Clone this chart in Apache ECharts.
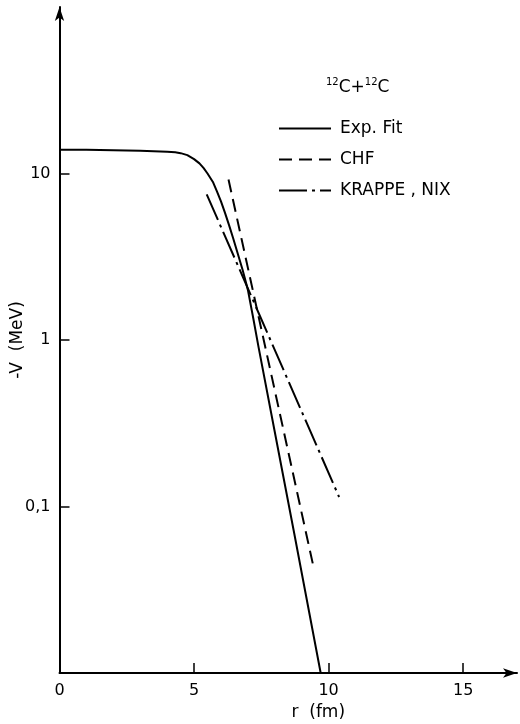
<!DOCTYPE html>
<html lang="en">
<head>
    <meta charset="UTF-8">
    <title>12C+12C potential</title>
    <script src="https://cdn.jsdelivr.net/npm/echarts@6/dist/echarts.min.js"></script>
    <style>
        html, body {
            margin: 0;
            padding: 0;
            background: #fff;
        }
        #main {
            width: 520px;
            height: 724px;
        }
    </style>
</head>
<body>
    <div id="main"></div>
    <script>
        // values
        var fitR = [0, 1, 2, 3, 4, 4.3, 4.5, 4.75, 5, 5.2, 5.35, 5.5, 5.7, 5.85, 6, 6.15, 6.3, 6.45, 6.6, 6.8, 7, 7.2, 7.4, 8, 8.7, 9.7];
        var fitV = [13.9, 13.9, 13.8, 13.7, 13.5, 13.4, 13.25, 12.9, 12.2, 11.5, 10.8, 10.0, 8.9, 7.8, 6.8, 5.8, 4.9, 4.1, 3.4, 2.65, 2.0, 1.35, 0.9, 0.28, 0.072, 0.0101];
        var chfR = [6.28, 9.43];
        var chfV = [9.2, 0.044];
        var knR = [5.47, 10.39];
        var knV = [7.5, 0.114];
        var xTicks = [0, 5, 10, 15];
        var yTicks = [0.1, 1, 10];
        var seriesNames = ['Exp. Fit', 'CHF', 'KRAPPE , NIX'];

        function pairs(xs, ys) {
            return xs.map(function (x, i) { return [x, ys[i]]; });
        }

        var font = 'DejaVu Sans';
        var chart = echarts.init(document.getElementById('main'));
        var option = {
            animation: false,
            color: ['#000', '#000', '#000'],
            textStyle: { fontFamily: font, color: '#000' },
            title: {
                text: '{s|12}{b|C+}{s|12}{b|C}',
                left: 321,
                top: 72,
                textStyle: {
                    fontWeight: 'normal',
                    rich: {
                        s: { fontSize: 10, fontFamily: font, fontWeight: 'normal', color: '#000', verticalAlign: 'top', lineHeight: 22 },
                        b: { fontSize: 17, fontFamily: font, fontWeight: 'normal', color: '#000', lineHeight: 22 }
                    }
                }
            },
            legend: {
                orient: 'vertical',
                left: 273,
                top: 115,
                itemWidth: 52,
                itemHeight: 14,
                itemGap: 14,
                data: seriesNames,
                itemStyle: { opacity: 0 },
                textStyle: { fontFamily: font, fontSize: 17, color: '#000', padding: [0, 0, 0, 4] }
            },
            grid: {
                left: 59.5,
                right: 3,
                top: 7,
                bottom: 51,
                outerBoundsMode: 'none'
            },
            xAxis: {
                type: 'value',
                min: 0,
                max: 17,
                interval: 5,
                name: 'r  (fm)',
                nameLocation: 'middle',
                nameGap: 28,
                nameTextStyle: { fontFamily: font, fontSize: 17, color: '#000', padding: [0, 0, 0, 60] },
                axisLine: {
                    lineStyle: { color: '#000', width: 2 },
                    symbol: ['none', 'arrow'],
                    symbolSize: [7, 14]
                },
                axisTick: { inside: true, length: 10, lineStyle: { color: '#000', width: 1.5 }, customValues: xTicks },
                axisLabel: { fontFamily: font, fontSize: 16, color: '#000', margin: 10, customValues: xTicks },
                splitLine: { show: false }
            },
            yAxis: {
                type: 'log',
                logBase: 10,
                min: 0.01,
                max: 100,
                name: '-V  (MeV)',
                nameLocation: 'middle',
                nameRotate: 90,
                nameGap: 33,
                nameMoveOverlap: false,
                nameTextStyle: { fontFamily: font, fontSize: 17, color: '#000' },
                axisLine: {
                    lineStyle: { color: '#000', width: 2 },
                    symbol: ['none', 'arrow'],
                    symbolSize: [7, 14]
                },
                axisTick: { inside: true, length: 10, lineStyle: { color: '#000', width: 1.5 }, customValues: yTicks },
                axisLabel: {
                    fontFamily: font,
                    fontSize: 16,
                    color: '#000',
                    margin: 9,
                    customValues: yTicks,
                    formatter: function (v) {
                        return v < 1 ? String(v).replace('.', ',') : String(v);
                    }
                },
                splitLine: { show: false }
            },
            series: [{
                name: seriesNames[0],
                type: 'line',
                data: pairs(fitR, fitV),
                symbol: 'none',
                lineStyle: { color: '#000', width: 2 }
            }, {
                name: seriesNames[1],
                type: 'line',
                data: pairs(chfR, chfV),
                symbol: 'none',
                lineStyle: { color: '#000', width: 2, type: [13, 7] }
            }, {
                name: seriesNames[2],
                type: 'line',
                data: pairs(knR, knV),
                symbol: 'none',
                lineStyle: { color: '#000', width: 2, type: [28, 5, 3, 5] }
            }]
        };
        chart.setOption(option);
    </script>
</body>
</html>
